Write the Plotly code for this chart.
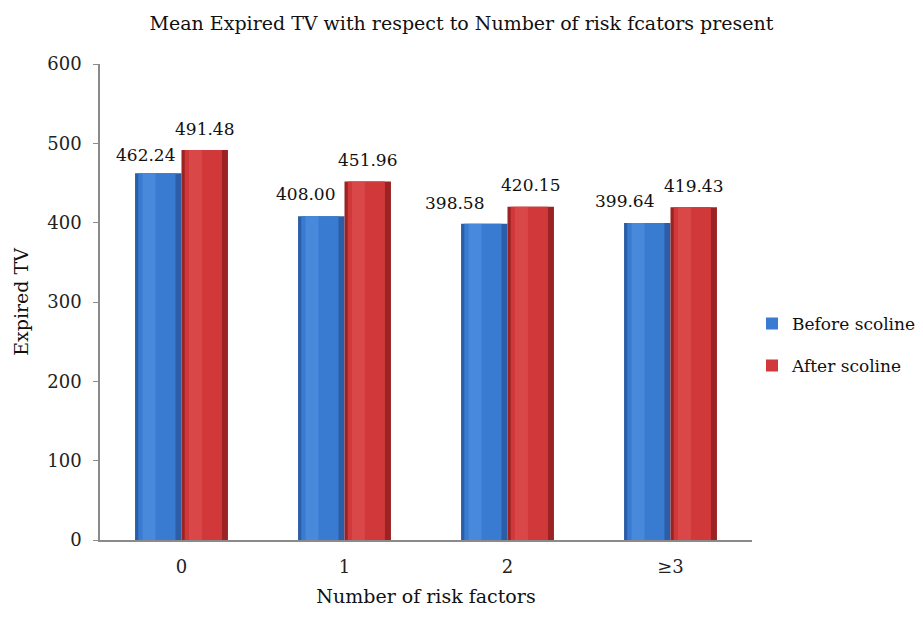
import plotly.graph_objects as go

# Mean expired tidal volume by number of risk factors
categories = ["0", "1", "2", "≥3"]
before_scoline = [462.24, 408.00, 398.58, 399.64]
after_scoline = [491.48, 451.96, 420.15, 419.43]
y_ticks = [0, 100, 200, 300, 400, 500, 600]

FONT = "DejaVu Serif"
BAR_W = 0.285  # width of one bar, in category units

# (series name, values, offset of bar's left edge, dark edge, body, highlight)
series = [
    ("Before scoline", before_scoline, -BAR_W, "#2b5ea6", "#3a7bd2", "#5597e6"),
    ("After scoline", after_scoline, 0.0, "#9c2323", "#d0383a", "#e25555"),
]

# label nudges (pixels) keep the left-hand labels clear of their neighbours
label_nudge = {"Before scoline": [-13, -16, -30, -23], "After scoline": [0, 0, 0, 0]}
label_lift = {"Before scoline": [6, 10, 9, 10], "After scoline": [9, 9, 10, 9]}

fig = go.Figure()
for name, vals, off, dark, body, light in series:
    n = len(vals)
    # outer shell (dark edges)
    fig.add_trace(go.Bar(
        x=categories, y=vals, offset=[off] * n, width=[BAR_W] * n,
        marker=dict(color=dark, line=dict(width=0)),
        showlegend=False, hoverinfo="skip",
    ))
    # main body of the bar
    fig.add_trace(go.Bar(
        x=categories, y=vals, name=name, legendgroup=name,
        offset=[off + BAR_W * 0.07] * n, width=[BAR_W * 0.80] * n,
        marker=dict(color=body, line=dict(width=0)),
    ))
    # soft highlight strip
    fig.add_trace(go.Bar(
        x=categories, y=vals,
        offset=[off + BAR_W * 0.16] * n, width=[BAR_W * 0.28] * n,
        marker=dict(color=light, line=dict(width=0), opacity=0.5),
        showlegend=False, hoverinfo="skip",
    ))

# value labels above each bar
for name, vals, off, *_ in series:
    for i, (cat, v) in enumerate(zip(categories, vals)):
        fig.add_annotation(
            x=i + off + BAR_W / 2, y=v, xref="x", yref="y",
            text=f"{v:.2f}", showarrow=False,
            yanchor="bottom", yshift=label_lift[name][i], xshift=label_nudge[name][i],
            font=dict(family=FONT, size=17, color="#111111"),
        )

fig.update_layout(
    width=923, height=627,
    margin=dict(l=100, r=171, t=64, b=87, autoexpand=False),
    paper_bgcolor="white", plot_bgcolor="white",
    barmode="overlay",
    title=dict(
        text="Mean Expired TV with respect to Number of risk fcators present",
        x=0.5, xref="container", xanchor="center",
        y=1 - 23 / 627, yref="container", yanchor="middle",
        font=dict(family=FONT, size=19, color="#111111"),
    ),
    legend=dict(
        x=1.0, xanchor="left", y=0.41, yanchor="middle",
        font=dict(family=FONT, size=17, color="#111111"),
        tracegroupgap=17, bgcolor="rgba(0,0,0,0)",
    ),
    showlegend=True,
)

fig.update_xaxes(
    type="category", categoryorder="array", categoryarray=categories,
    range=[-0.5, len(categories) - 0.5],
    showline=True, linecolor="#8a8a8a", linewidth=1.5,
    ticks="", showgrid=False, ticklabelstandoff=10,
    tickfont=dict(family=FONT, size=18, color="#222222"),
    title=dict(text="Number of risk factors", standoff=13,
               font=dict(family=FONT, size=19, color="#111111")),
)
fig.update_yaxes(
    range=[0, 600], tickvals=y_ticks, ticktext=[str(t) for t in y_ticks],
    showline=True, linecolor="#8a8a8a", linewidth=1.5,
    ticks="outside", ticklen=5, tickcolor="#8a8a8a",
    showgrid=False, zeroline=False, ticklabelstandoff=8,
    tickfont=dict(family=FONT, size=18, color="#222222"),
    title=dict(text="Expired TV", standoff=14,
               font=dict(family=FONT, size=19, color="#111111")),
)

fig.write_html("out.html")
